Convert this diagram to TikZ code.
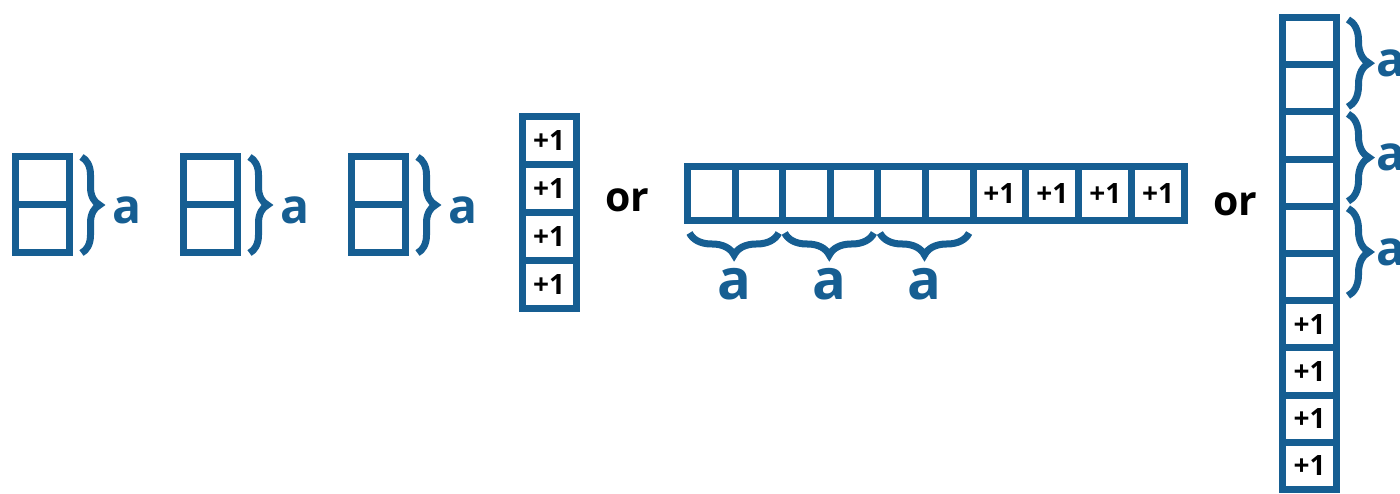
\documentclass[tikz,border=0pt]{standalone}
\usepackage{fontspec}
\setmainfont{Open Sans}
\usetikzlibrary{decorations.pathreplacing}
\definecolor{boxblue}{RGB}{22,94,146}
\newcommand\plusfont{\fontsize{28}{30}\selectfont\bfseries}

\tikzset{
  cell/.style={draw=boxblue, line width=7pt, minimum width=54pt, minimum height=48pt,
    inner sep=0pt, outer sep=0pt, font=\plusfont},
  hcell/.style={cell, minimum height=54pt, minimum width=47.6pt},
  pcell/.style={hcell, minimum width=52.9pt},
  rcell/.style={cell, minimum height=47.2pt},
  curly/.style={draw=boxblue, line width=7pt, decorate, decoration={brace, amplitude=#1}},
  curly/.default=18pt,
  flipcurly/.style={draw=boxblue, line width=7pt, decorate, decoration={brace, mirror, amplitude=#1}},
  flipcurly/.default=22pt,
  alabel/.style={text=boxblue, inner sep=0pt, font=\fontsize{48}{50}\selectfont\bfseries},
  biglabel/.style={alabel, font=\fontsize{56}{60}\selectfont\bfseries},
  orlabel/.style={inner sep=0pt, font=\fontsize{41}{44}\selectfont\bfseries},
}

\begin{document}
\begin{tikzpicture}[x=1pt, y=-1pt]
  \useasboundingbox (0,0) rectangle (1400,494);

  % three pairs
  \foreach \i/\x in {1/42.5, 2/210.5, 3/378.5} {
    \node[cell] (p\i t) at (\x,181) {};
    \node[cell] (p\i b) at (\x,229) {};
    \draw[curly] ([xshift=12pt]p\i t.north east) -- ([xshift=12pt]p\i b.south east)
      node[alabel, midway, right=27pt, yshift=-5.5pt] {a};
  }

  % column of +1
  \foreach \k in {1,...,4}
    \node[cell] (v\k) at (549, {92.5+48*\k}) {+1};
  \node[orlabel] (or1) at (627,200) {or};

  % row
  \foreach \k in {1,...,6}
    \node[hcell] (h\k) at ({663.7+47.6*\k}, 193.5) {};
  \foreach \k in {7,...,10}
    \node[pcell] (h\k) at ({999.45+52.9*(\k-7)}, 193.5) {+1};
  \foreach \k/\m in {1/2, 3/4, 5/6}
    \draw[flipcurly] ([xshift=2pt, yshift=-12.5pt]h\k.south west) -- ([xshift=-4pt, yshift=-12.5pt]h\m.south east)
      node[biglabel, midway, below=32pt] {a};
  \node[orlabel] (or2) at (1235,204) {or};

  % tall column
  \foreach \k in {1,...,6}
    \node[rcell] (r\k) at (1309.5, {-6.1+47.2*\k}) {};
  \foreach \k in {7,...,10}
    \node[rcell] (r\k) at (1309.5, {-6.1+47.2*\k}) {+1};
  \foreach \k/\m in {1/2, 3/4, 5/6}
    \draw[curly=21pt] ([xshift=11.5pt, yshift=-2pt]r\k.north east) -- ([xshift=11.5pt, yshift=5pt]r\m.south east)
      node[alabel, midway, right=25pt] {a};
\end{tikzpicture}
\end{document}
